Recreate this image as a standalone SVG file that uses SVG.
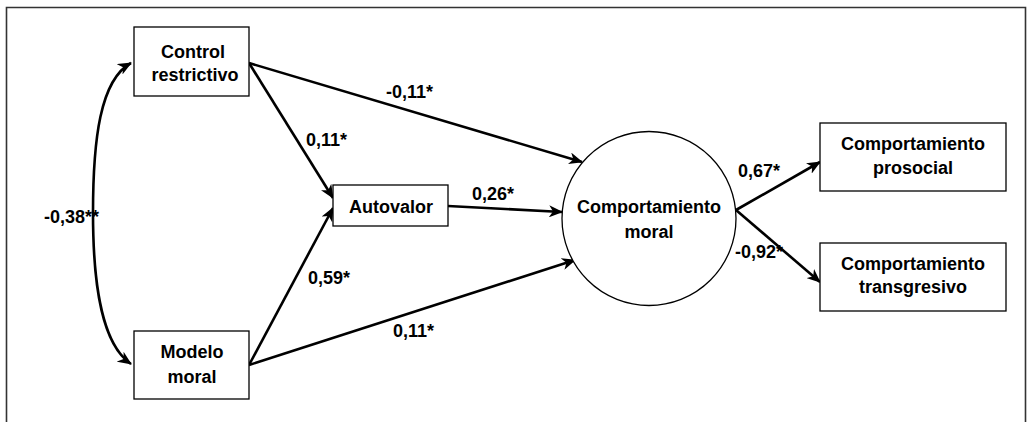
<svg xmlns="http://www.w3.org/2000/svg" width="1028" height="422" viewBox="0 0 1028 422">
  <style>
    .box { fill: #ffffff; stroke: #000000; stroke-width: 1.3; }
    .lbl { font-family: "Liberation Sans", Arial, sans-serif; font-weight: bold; font-size: 18px; fill: #000000; }
    .mid { text-anchor: middle; }
    .edge { fill: none; stroke: #000000; stroke-width: 2.6; marker-end: url(#head); }
  </style>
  <defs>
    <marker id="head" viewBox="0 0 14 12" refX="13" refY="6" markerWidth="14" markerHeight="12" markerUnits="userSpaceOnUse" orient="auto-start-reverse">
      <path d="M0,0 L14,6 L0,12 L4,6 z" fill="#000000"/>
    </marker>
  </defs>

  <rect width="1028" height="422" fill="#ffffff"/>
  <!-- outer frame -->
  <path d="M6.5,430 L6.5,7.5 L1025.5,7.5 L1025.5,430" fill="none" stroke="#333333" stroke-width="1.6"/>

  <g id="connectors">
    <path class="edge" d="M131,63 C100,80 93,140 93,213 C93,290 103,345 131,364" style="marker-start:url(#head)"/>
    <path class="edge" d="M249,63 L582,162"/>
    <path class="edge" d="M249,63 L333,198"/>
    <path class="edge" d="M249,365 L333,208"/>
    <path class="edge" d="M448,206 L562,212"/>
    <path class="edge" d="M249,365 L575,260"/>
    <path class="edge" d="M736,210 L820,162"/>
    <path class="edge" d="M736,210 L820,282"/>
  </g>

  <g id="edge-labels">
    <text class="lbl" x="44" y="223">-0,38**</text>
    <text class="lbl" x="386" y="98">-0,11*</text>
    <text class="lbl" x="306" y="146">0,11*</text>
    <text class="lbl" x="472" y="200">0,26*</text>
    <text class="lbl" x="308" y="284">0,59*</text>
    <text class="lbl" x="393" y="337">0,11*</text>
    <text class="lbl" x="738" y="177">0,67*</text>
    <text class="lbl" x="735" y="258">-0,92*</text>
  </g>

  <g id="control-restrictivo">
    <rect class="box" x="134" y="27" width="115" height="69"/>
    <text class="lbl mid" x="193" y="58">Control</text>
    <text class="lbl mid" x="195" y="81">restrictivo</text>
  </g>

  <g id="modelo-moral">
    <rect class="box" x="134" y="331" width="115" height="68"/>
    <text class="lbl mid" x="192" y="358">Modelo</text>
    <text class="lbl mid" x="192" y="383">moral</text>
  </g>

  <g id="autovalor">
    <rect class="box" x="333" y="185" width="115" height="41"/>
    <text class="lbl mid" x="391" y="213">Autovalor</text>
  </g>

  <g id="comportamiento-moral">
    <circle cx="649" cy="218.5" r="87" fill="#ffffff" stroke="#000000" stroke-width="1.3"/>
    <text class="lbl mid" x="649" y="213">Comportamiento</text>
    <text class="lbl mid" x="649" y="238">moral</text>
  </g>

  <g id="comportamiento-prosocial">
    <rect class="box" x="820" y="123" width="186" height="68"/>
    <text class="lbl mid" x="913" y="150">Comportamiento</text>
    <text class="lbl mid" x="913" y="174">prosocial</text>
  </g>

  <g id="comportamiento-transgresivo">
    <rect class="box" x="820" y="243" width="186" height="68"/>
    <text class="lbl mid" x="913" y="270">Comportamiento</text>
    <text class="lbl mid" x="913" y="293">transgresivo</text>
  </g>
</svg>
